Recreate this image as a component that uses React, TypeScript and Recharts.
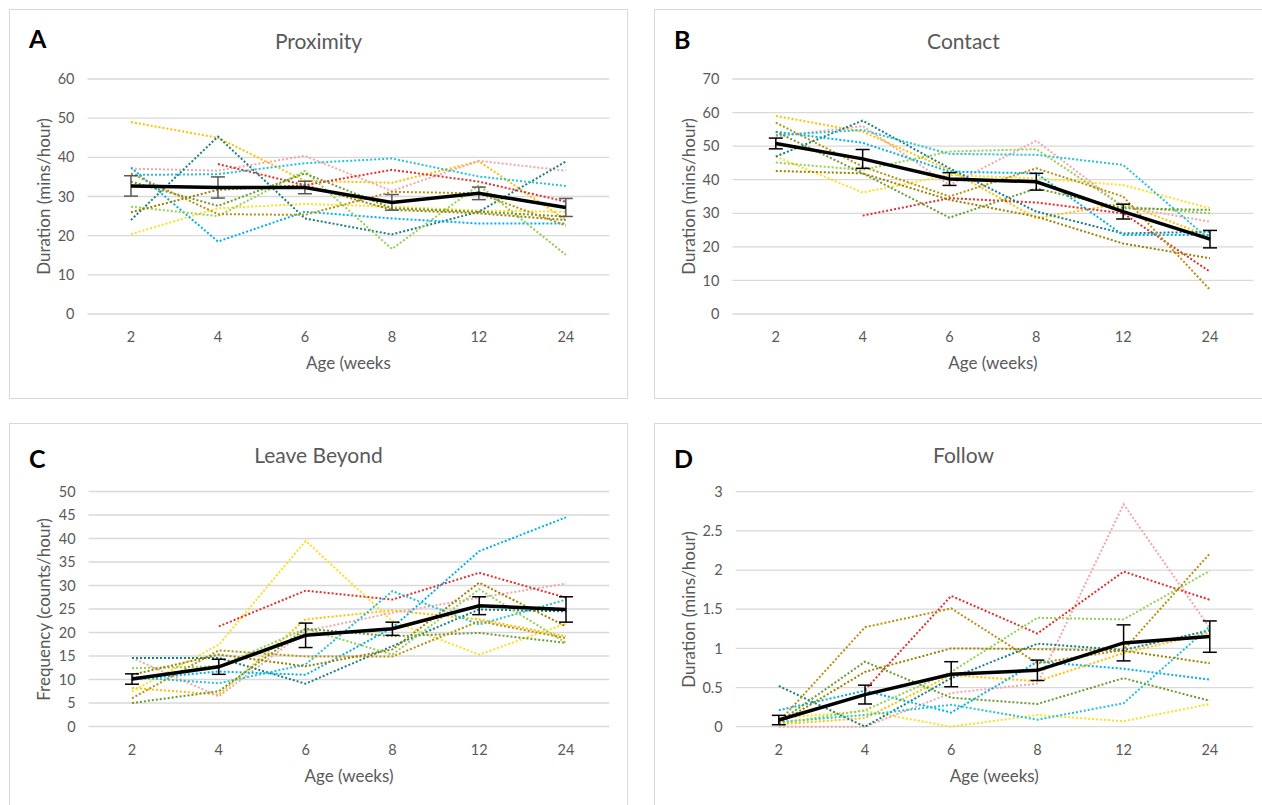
import React from 'react';
import { LineChart, Line, XAxis, YAxis, CartesianGrid, ErrorBar } from 'recharts';

// Age in weeks (category axis)
const weeks = ['2', '4', '6', '8', '12', '24'];

// one colour per animal, same order in every panel
const subjectColors = [
  '#FFC000', // gold
  '#FFDD22', // yellow
  '#F4A6A6', // pink
  '#E0302C', // red
  '#1A7F80', // dark teal
  '#00B0F0', // light blue
  '#22C3D3', // turquoise
  '#92D050', // light green
  '#6A9B30', // olive green
  '#B8900C', // dark gold
  '#9C8000', // olive brown
];

// A - Proximity (mins/hour)
const proximitySubjects = [
  [49, 45, 34, 33.5, 39, 24],
  [20.4, 27, 28.1, 27.4, 26.4, 26.1],
  [37.1, 36.6, 40.4, 31.4, 39.1, 36.6],
  [null, 38.3, 32.9, 36.8, 33.8, 28.7],
  [24, 45.3, 24.4, 20.3, 26.1, 38.9],
  [37.4, 18.5, 26.1, 24.4, 23.1, 23.1],
  [35.5, 35.7, 38.5, 39.7, 35.1, 32.7],
  [27.4, 25, 36.5, 16.6, 32.9, 15.1],
  [33.8, 27.6, 35.9, 27, 26.1, 24.9],
  [35.9, 25.5, 25.3, 31.2, 30.8, 22.6],
  [26, 31.7, 32.9, 26.6, 25.7, 24],
];
const proximityMean = [32.7, 32.3, 32.3, 28.5, 30.8, 27.2];
const proximityErr = [2.6, 2.7, 1.6, 2, 1.6, 2.3];
const proximityTicks = [0, 10, 20, 30, 40, 50, 60];

// B - Contact (mins/hour)
const contactSubjects = [
  [59, 54.3, 42.9, 28.5, 33, 23],
  [46.9, 36.2, 41.4, 40.4, 38.4, 31.5],
  [52.8, 56, 38.4, 51.6, 32, 27.5],
  [null, 29.3, 34.5, 33.2, 30, 12.6],
  [46.9, 57.6, 43.4, 30.5, 24, 24.5],
  [54.3, 51, 42.4, 41.9, 23.5, 23.5],
  [53.3, 54.8, 47.7, 47.4, 44.4, 22],
  [45.1, 42.9, 48.4, 49.1, 32, 30],
  [54.3, 41.9, 28.7, 37.4, 31.5, 31],
  [57, 43.9, 35, 43.4, 35, 7.2],
  [42.6, 41.9, 34, 29, 21, 16.6],
];
const contactMean = [50.8, 46.2, 40.2, 39.4, 30.5, 22.3];
const contactErr = [1.6, 2.8, 1.9, 2.5, 2.2, 2.6];
const contactTicks = [0, 10, 20, 30, 40, 50, 60, 70];

// C - Leave Beyond (counts/hour)
const leaveSubjects = [
  [8.2, 6.8, 22.8, 24.7, 22.8, 19.2],
  [7.5, 17.4, 39.5, 22.4, 15.3, 21.9],
  [14.6, 6.4, 20.3, 24.2, 27.4, 30.4],
  [null, 21.3, 28.9, 27, 32.7, 27.4],
  [14.6, 14.6, 9.1, 17.1, 24.9, 24.5],
  [10, 11.7, 11, 21, 37.3, 44.5],
  [10.5, 9.2, 13.2, 28.8, 21.7, 27],
  [12.4, 12.8, 20.8, 15.3, 29.2, 17.8],
  [5, 7.5, 20.8, 19.2, 19.9, 17.8],
  [6, 16.2, 14.9, 14.9, 22.4, 18.8],
  [11, 15.3, 12.8, 16.4, 30.6, 21.3],
];
const leaveMean = [10.1, 12.7, 19.4, 20.8, 25.7, 24.9];
const leaveErr = [1.1, 1.6, 2.6, 1.4, 1.9, 2.7];
const leaveTicks = [0, 5, 10, 15, 20, 25, 30, 35, 40, 45, 50];

// D - Follow (mins/hour)
const followSubjects = [
  [0.03, 0.11, 0.66, 0.58, 0.94, 1.2],
  [0.11, 0.2, 0, 0.15, 0.07, 0.29],
  [0, 0, 0.43, 0.55, 2.84, 1.26],
  [null, 0.47, 1.67, 1.19, 1.98, 1.62],
  [0.52, 0, 0.62, 1.06, 0.98, 1.23],
  [0.21, 0.46, 0.18, 0.83, 0.74, 0.6],
  [0.06, 0.15, 0.28, 0.09, 0.3, 1.28],
  [0.04, 0.21, 0.7, 1.39, 1.37, 1.99],
  [0.06, 0.83, 0.37, 0.29, 0.62, 0.33],
  [0.06, 1.27, 1.51, 0.81, 0.98, 2.21],
  [0.04, 0.7, 1.0, 0.99, 0.97, 0.81],
];
const followMean = [0.085, 0.41, 0.67, 0.72, 1.07, 1.15];
const followErr = [0.06, 0.12, 0.16, 0.13, 0.23, 0.2];
const followTicks = [0, 0.5, 1, 1.5, 2, 2.5, 3];

const FONT = 'Lato, "Open Sans", sans-serif';
const GREY = '#595959';
const W = 619;
const H = 390;

function buildRows(subjects: (number | null)[][], mean: number[], err: number[]) {
  return weeks.map((w, i) => {
    const row: any = { week: w, mean: mean[i], err: err[i] };
    subjects.forEach((s, j) => {
      row['s' + j] = s[i];
    });
    return row;
  });
}

type PanelProps = {
  x: number;
  y: number;
  letter: string;
  letterTop: number;
  title: string;
  yLabel: string;
  xLabel: string;
  subjects: (number | null)[][];
  mean: number[];
  err: number[];
  ticks: number[];
  plot: { left: number; right: number; top: number; bottom: number };
  errColor: string;
};

function Panel(p: PanelProps) {
  const plotW = p.plot.right - p.plot.left;
  const pad = plotW / 12;
  const data = buildRows(p.subjects, p.mean, p.err);
  const yMax = p.ticks[p.ticks.length - 1];
  const tickStyle = { fill: GREY, fontSize: 14.5, fontFamily: FONT };
  const plotCx = (p.plot.left + p.plot.right) / 2;
  const plotCy = (p.plot.top + p.plot.bottom) / 2;

  return (
    <div
      style={{
        position: 'absolute',
        left: p.x,
        top: p.y,
        width: W,
        height: H,
        boxSizing: 'border-box',
        border: '1px solid #d9d9d9',
        background: '#fff',
      }}
    >
      <div style={{ position: 'absolute', left: -1, top: -1, width: W, height: H }}>
        <LineChart
          width={W}
          height={H}
          data={data}
          margin={{ top: p.plot.top, right: W - p.plot.right, left: 0, bottom: 0 }}
        >
          <CartesianGrid vertical={false} stroke="#d9d9d9" strokeWidth={1.3} />
          <XAxis
            dataKey="week"
            axisLine={false}
            tickLine={false}
            tickSize={0}
            tickMargin={18}
            height={H - p.plot.bottom}
            padding={{ left: pad, right: pad }}
            interval={0}
            tick={tickStyle}
          />
          <YAxis
            type="number"
            domain={[0, yMax]}
            ticks={p.ticks}
            axisLine={false}
            tickLine={false}
            tickSize={0}
            tickMargin={13}
            width={p.plot.left}
            interval={0}
            tick={tickStyle}
          />
          {p.subjects.map((_, j) => (
            <Line
              key={j}
              type="linear"
              dataKey={'s' + j}
              stroke={subjectColors[j]}
              strokeWidth={2}
              strokeDasharray="2 2"
              dot={false}
              activeDot={false}
              connectNulls={false}
              isAnimationActive={false}
            />
          ))}
          <Line
            type="linear"
            dataKey="mean"
            stroke="#000"
            strokeWidth={3.5}
            dot={false}
            activeDot={false}
            isAnimationActive={false}
          >
            <ErrorBar dataKey="err" width={7} strokeWidth={1.5} stroke={p.errColor} direction="y" />
          </Line>
        </LineChart>

        {/* panel letter */}
        <div
          style={{
            position: 'absolute',
            left: 20,
            top: p.letterTop,
            fontFamily: FONT,
            fontWeight: 700,
            fontSize: 25,
            lineHeight: '25px',
            color: '#000',
          }}
        >
          {p.letter}
        </div>

        {/* title */}
        <div
          style={{
            position: 'absolute',
            left: 0,
            top: 20.5,
            width: W,
            textAlign: 'center',
            fontFamily: FONT,
            fontSize: 21,
            lineHeight: '21px',
            color: GREY,
          }}
        >
          {p.title}
        </div>

        {/* x axis title */}
        <div
          style={{
            position: 'absolute',
            left: plotCx - 150,
            top: p.plot.bottom + 40,
            width: 300,
            textAlign: 'center',
            fontFamily: FONT,
            fontSize: 17,
            lineHeight: '17px',
            color: GREY,
          }}
        >
          {p.xLabel}
        </div>

        {/* y axis title */}
        <div
          style={{
            position: 'absolute',
            left: 34 - 150,
            top: plotCy - 8.5,
            width: 300,
            height: 17,
            textAlign: 'center',
            fontFamily: FONT,
            fontSize: 17,
            lineHeight: '17px',
            color: GREY,
            transform: 'rotate(-90deg)',
            transformOrigin: 'center center',
            whiteSpace: 'nowrap',
          }}
        >
          {p.yLabel}
        </div>
      </div>
    </div>
  );
}

export default function App() {
  return (
    <div
      style={{
        position: 'absolute',
        left: 0,
        top: 0,
        width: 1262,
        height: 805,
        overflow: 'hidden',
        background: '#fff',
      }}
    >
      <Panel
        x={9}
        y={9}
        letter="A"
        letterTop={17}
        title="Proximity"
        yLabel="Duration (mins/hour)"
        xLabel="Age (weeks"
        subjects={proximitySubjects}
        mean={proximityMean}
        err={proximityErr}
        ticks={proximityTicks}
        plot={{ left: 78.5, right: 600.3, top: 70, bottom: 305 }}
        errColor="#595959"
      />
      <Panel
        x={654}
        y={9}
        letter="B"
        letterTop={18}
        title="Contact"
        yLabel="Duration (mins/hour)"
        xLabel="Age (weeks)"
        subjects={contactSubjects}
        mean={contactMean}
        err={contactErr}
        ticks={contactTicks}
        plot={{ left: 78.4, right: 599.4, top: 70, bottom: 305 }}
        errColor="#000"
      />
      <Panel
        x={9}
        y={423}
        letter="C"
        letterTop={23}
        title="Leave Beyond"
        yLabel="Frequency (counts/hour)"
        xLabel="Age (weeks)"
        subjects={leaveSubjects}
        mean={leaveMean}
        err={leaveErr}
        ticks={leaveTicks}
        plot={{ left: 79.6, right: 600.4, top: 68.5, bottom: 303.5 }}
        errColor="#000"
      />
      <Panel
        x={654}
        y={423}
        letter="D"
        letterTop={23}
        title="Follow"
        yLabel="Duration (mins/hour)"
        xLabel="Age (weeks)"
        subjects={followSubjects}
        mean={followMean}
        err={followErr}
        ticks={followTicks}
        plot={{ left: 81.7, right: 598.9, top: 68.7, bottom: 303.7 }}
        errColor="#000"
      />
    </div>
  );
}
